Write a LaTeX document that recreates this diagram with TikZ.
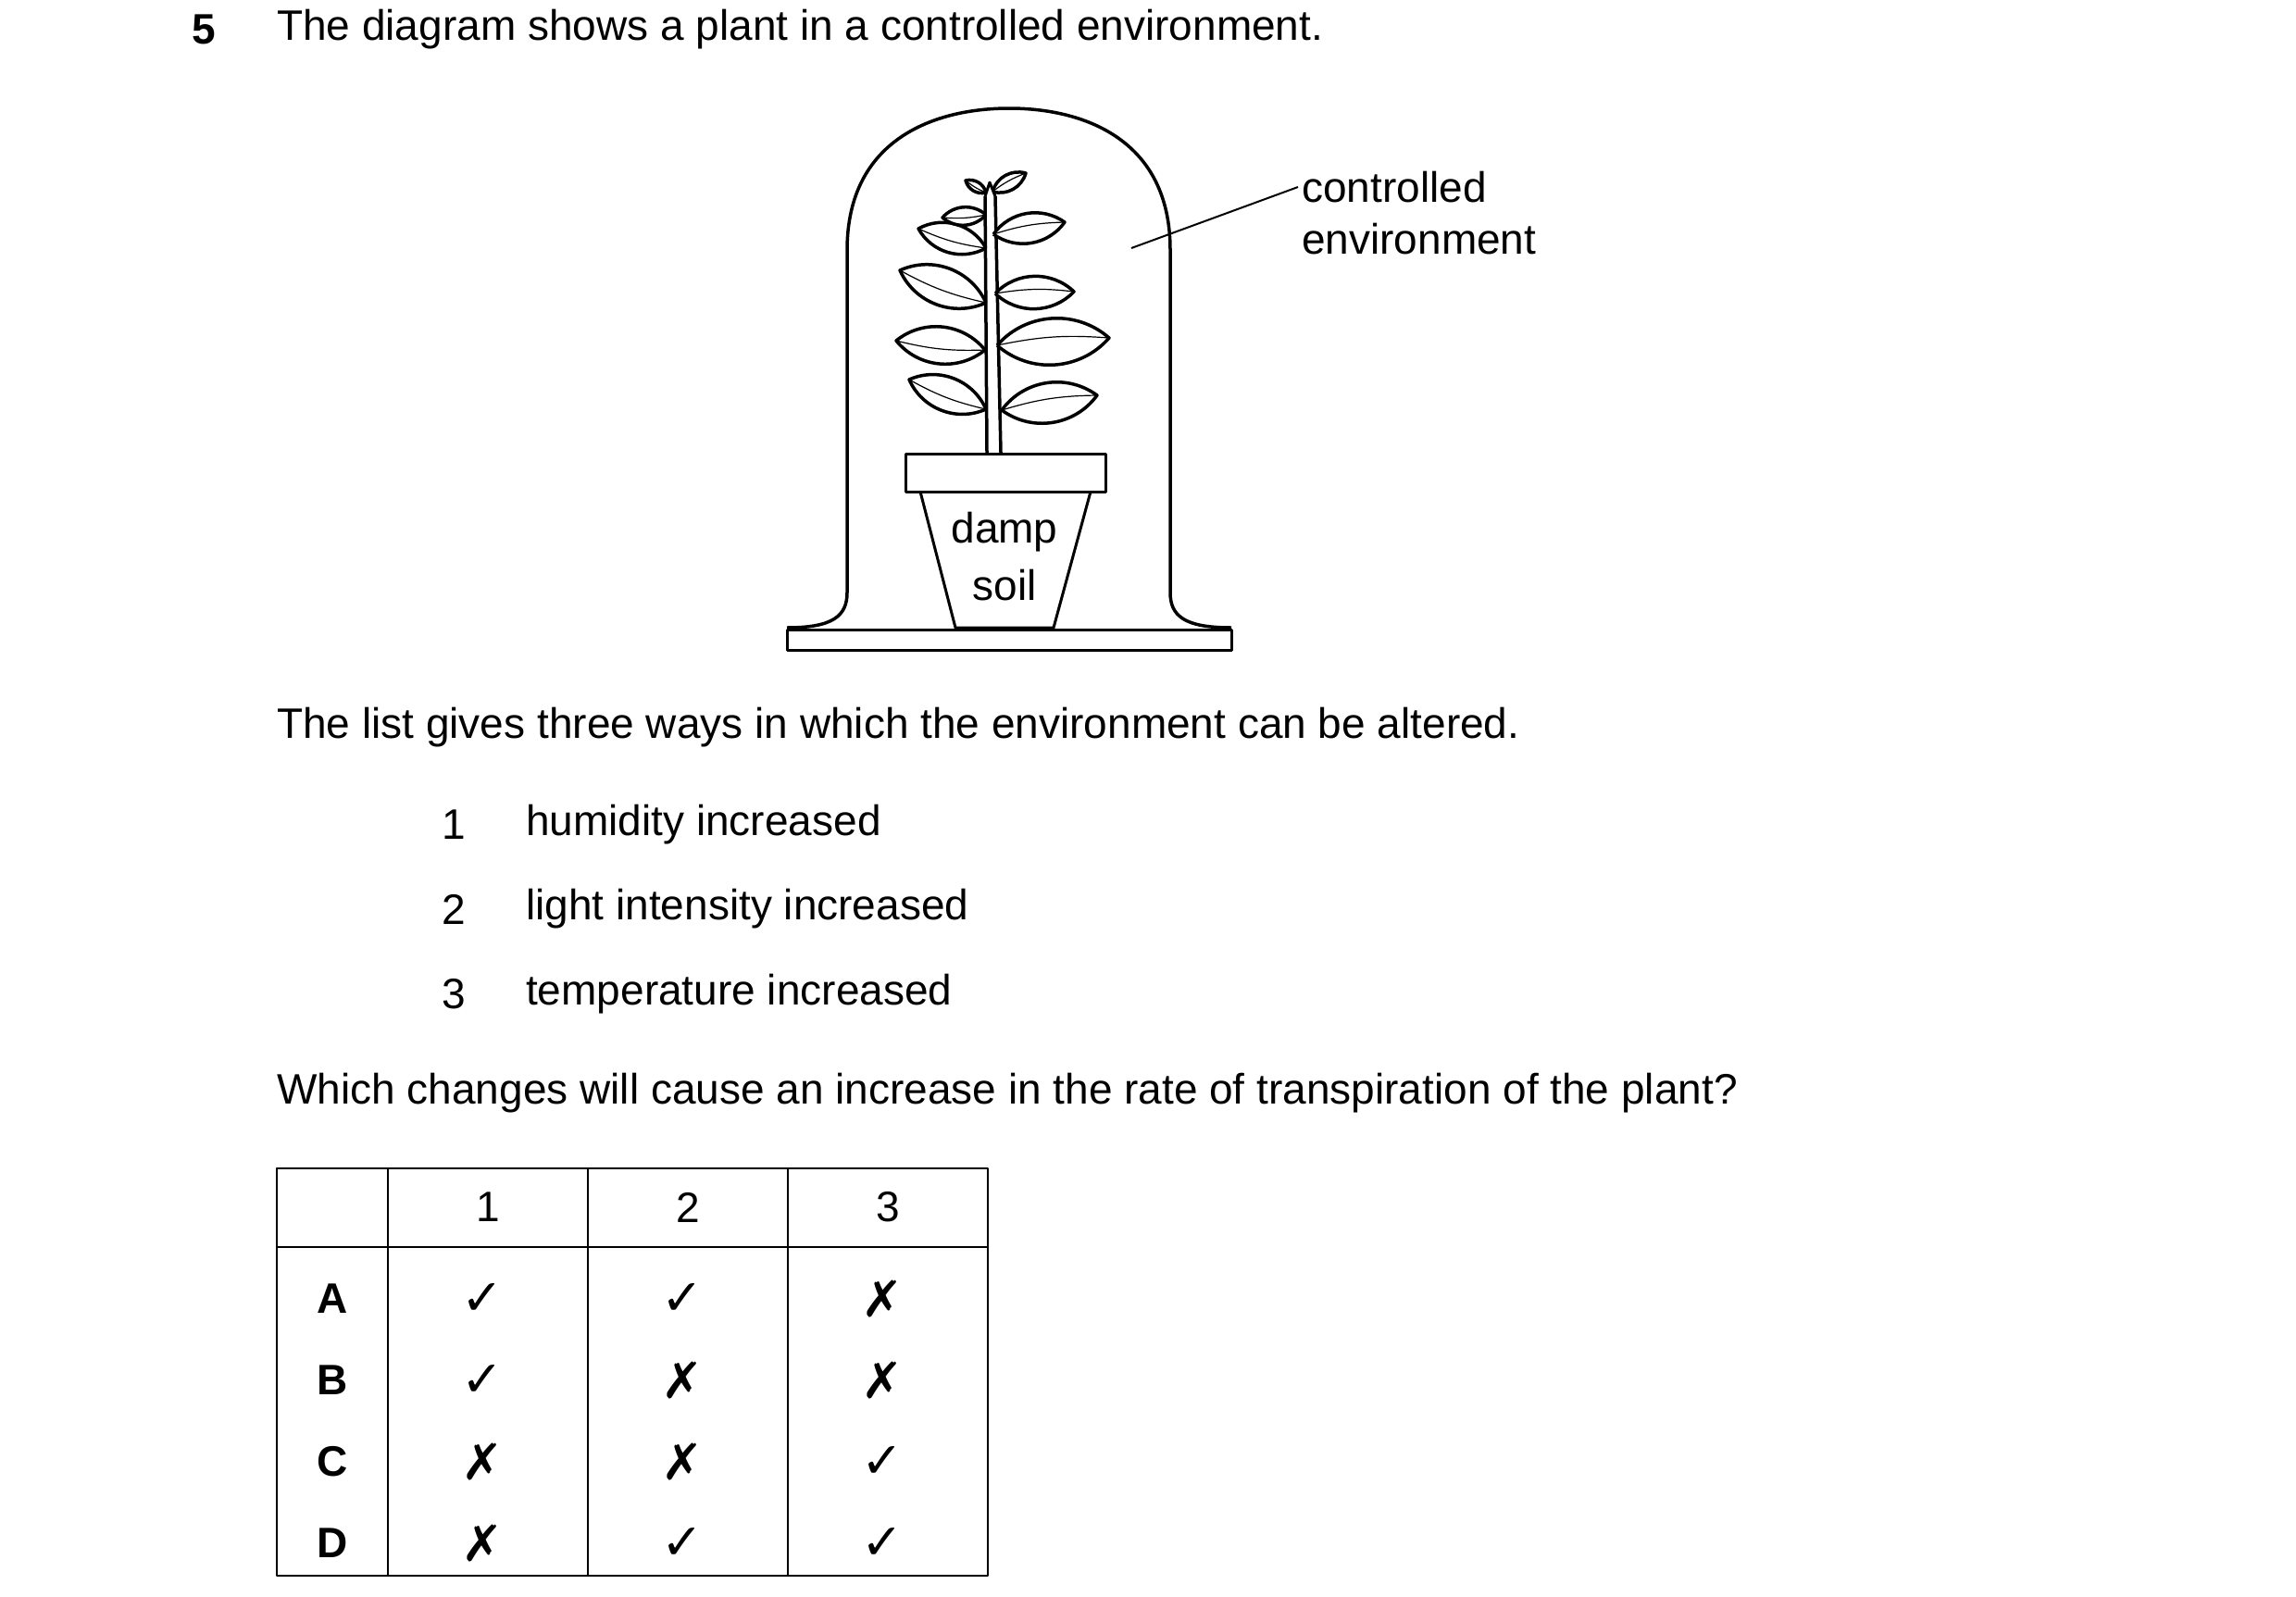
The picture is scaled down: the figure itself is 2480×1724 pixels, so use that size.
\documentclass[tikz,border=0pt]{standalone}
\usepackage{fontspec}
\setmainfont{Liberation Sans}
\newfontfamily\symfont{DejaVu Sans}
\newcommand{\yes}{{\symfont\fontsize{54}{60}\selectfont ✓}}
\newcommand{\no}{{\symfont\fontsize{54}{60}\selectfont ✗}}
\begin{document}
\begin{tikzpicture}[x=1pt,y=-1pt,line join=round,
    txt/.style={anchor=west,inner sep=0pt,font=\fontsize{46}{54}\selectfont},
    cell/.style={inner sep=0pt,font=\fontsize{46}{54}\selectfont},
    leaf/.style={line width=3.5pt,fill=white},
    rib/.style={line width=1.2pt}]
  \useasboundingbox (0,0) rectangle (2480,1724);

  % heading
  \node[txt,font=\fontsize{46}{54}\selectfont\bfseries] (num) at (207,32) {5};
  \node[txt] (intro) at (299,32) {The diagram shows a plant in a controlled environment.};

  % base plate and dome
  \draw[line width=3pt] (850,680) rectangle (1330,702);
  \draw[line width=3.5pt] (850,678) .. controls (900,678) and (915,665) .. (915,640)
    -- (915,270) .. controls (915,150) and (1010,117) .. (1090,117)
    .. controls (1170,117) and (1264,150) .. (1264,270) -- (1264,640)
    .. controls (1264,665) and (1279,678) .. (1330,678);

  % pot
  \draw[line width=3pt] (978,490) rectangle (1194,531);
  \draw[line width=3pt] (994,531) -- (1032,678) -- (1138,678) -- (1178,531);
  \node[cell] (damp) at (1085,575) {damp};
  \node[cell] (soil) at (1085,632) {soil};

  % stem
  \draw[line width=3.5pt] (1066,489) -- (1064,212);
  \draw[line width=3.5pt] (1081,489) -- (1075,212);

  % leaves: base x, base y, tip x, tip y
  \foreach \bx/\by/\tx/\ty in {1065/442/982/410, 1064/378/968/368,
      1065/327/972/292, 1065/268/992/247, 1065/232/1018/235, 1065/208/1043/195,
      1082/443/1185/427, 1077/373/1198/365, 1075/317/1160/315,
      1073/253/1150/240, 1072/207/1108/187} {
    \draw[leaf] (\bx,\by) to[bend left=45] (\tx,\ty) to[bend left=45] (\bx,\by);
    \draw[rib] (\bx,\by) to[bend left=8] (\tx,\ty);
  }
  \draw[line width=3pt,fill=white] (1064,212) -- (1069,197) -- (1075,212);

  % label
  \node[txt] (ctrl) at (1406,202) {controlled};
  \node[txt] (env) at (1406,258) {environment};
  \coordinate (inside) at (1222,268);
  \draw[line width=2pt] (inside) -- ([xshift=-4pt]ctrl.west);

  % list
  \node[txt] (list) at (299,786) {The list gives three ways in which the environment can be altered.};
  \foreach \n/\t/\y in {1/humidity increased/891, 2/light intensity increased/982,
      3/temperature increased/1074} {
    \node[cell] (n\n) at (490,\y) {\n};
    \node[txt] (item\n) at (568,\y) {\t};
  }
  \node[txt] (quest) at (299,1181) {Which changes will cause an increase in the rate of transpiration of the plant?};

  % table
  \draw[line width=2pt] (299,1262) rectangle (1067,1702);
  \foreach \x in {419,635,851} \draw[line width=2pt] (\x,1262) -- (\x,1702);
  \draw[line width=2pt] (299,1347) -- (1067,1347);
  \foreach \c/\x in {1/527,2/743,3/959} \node[cell] (h\c) at (\x,1304) {\c};
  \foreach \r/\y/\a/\b/\c in {A/1403/\yes/\yes/\no, B/1491/\yes/\no/\no,
      C/1579/\no/\no/\yes, D/1667/\no/\yes/\yes} {
    \node[cell,font=\fontsize{46}{54}\selectfont\bfseries] (r\r) at (359,\y) {\r};
    \node[cell] (r\r1) at (521,\y) {\a};
    \node[cell] (r\r2) at (737,\y) {\b};
    \node[cell] (r\r3) at (953,\y) {\c};
  }
\end{tikzpicture}
\end{document}
